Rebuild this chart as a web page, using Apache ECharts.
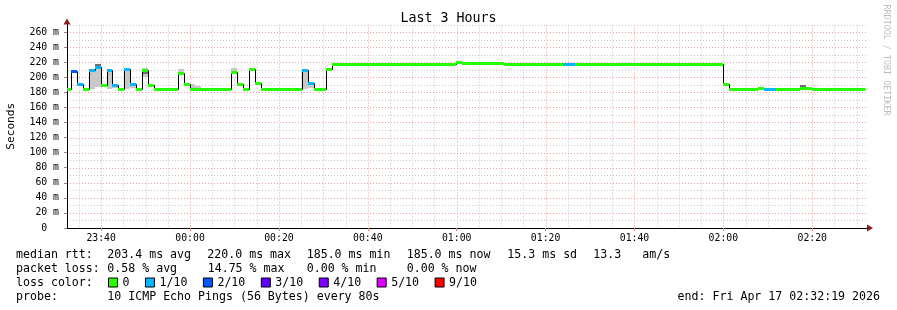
<!DOCTYPE html>
<html><head><meta charset="utf-8">
<script src="https://cdn.jsdelivr.net/npm/echarts@6/dist/echarts.min.js"></script>
<style>html,body{margin:0;padding:0;background:#fff;}#c{width:897px;height:310px;}</style>
</head><body><div id="c"></div>
<script>
// ---------- data ----------
const axisStart = '23:32:19';
const axisEnd = '02:32:19';
const firstStepTime = '23:31:53';
const stepSeconds = 80;
const xMajorTicks = ['23:40','00:00','00:20','00:40','01:00','01:20','01:40','02:00','02:20'];
const xMinorTicks = ['23:35','23:45','23:50','23:55','00:05','00:10','00:15','00:25','00:30','00:35','00:45','00:50','00:55',
  '01:05','01:10','01:15','01:25','01:30','01:35','01:45','01:50','01:55','02:05','02:10','02:15','02:25','02:30'];
const yMajorTicks = [0,20,40,60,80,100,120,140,160,180,200,220,240,260];
const yMinorTicks = [10,30,50,70,90,110,130,150,170,190,210,230,250,270];

// median rtt (ms) per 80 s step
const median = [
  185, 208, 191, 185, 210, 214, 190, 209, 190, 185,
  211, 191, 185, 209, 190, 185, 185, 185, 185, 206,
  191, 185, 185, 185, 185, 185, 185, 185, 207, 191,
  185, 211, 193, 185, 185, 185, 185, 185, 185, 185,
  210, 192, 185, 185, 211, 217, 217, 217, 217, 217,
  217, 218, 217, 218, 217, 218, 217, 218, 217, 218,
  217, 218, 217, 218, 217, 218, 220, 219.5, 219.5, 219.5,
  219.5, 219.5, 219.5, 219.5, 218, 217, 217, 217, 217, 217,
  217, 217, 217, 217, 217, 217, 217, 217, 217, 217,
  217, 217, 217, 217, 217, 217, 217, 217, 217, 217,
  217, 217, 217, 217, 217, 217, 217, 217, 217, 217,
  217, 191, 185, 185, 185, 185, 185, 185.5, 185, 185,
  185, 185, 185, 185, 185.5, 185.5, 185, 185, 185, 185,
  185, 185, 185, 185, 185
];
// packet loss (tenths) for steps with loss; all others 0
const lossSteps  = [1, 2, 4, 5, 7, 8, 10, 11, 40, 41, 84, 85, 118, 119];
const lossTenths = [2, 1, 1, 1, 1, 1, 1,  1,  1,  1,  1,  1,  1,   1];
// smoke (spread of pings)
const smokeSteps = [4, 5, 7, 8, 10, 11, 13, 19, 21, 22, 28, 40, 41];
const smokeLo    = [185, 187, 185, 186, 185, 186, 201, 205, 185, 185, 205, 185, 186];
const smokeHi    = [211, 217, 210, 191, 212, 192, 212, 211, 191, 188, 212, 211, 192];
const coreSteps  = [5, 13, 124];
const coreLo     = [212, 204, 186.5];
const coreHi     = [217, 208, 190];

const lossClasses = [0, 1, 2, 3, 4, 5, 9];
const lossNames   = ['0', '1/10', '2/10', '3/10', '4/10', '5/10', '9/10'];
const lossColors  = ['#26ff00', '#00b8ff', '#0059ff', '#5e00ff', '#7e00ff', '#dd00ff', '#ff0000'];

const medianStats = ['203.4 ms avg', '220.0 ms max', '185.0 ms min', '185.0 ms now', '15.3 ms sd', '13.3', 'am/s'];
const lossStats   = ['0.58 % avg', '14.75 % max', '0.00 % min', '0.00 % now'];
const probeText = '10 ICMP Echo Pings (56 Bytes) every 80s';
const endText = 'end: Fri Apr 17 02:32:19 2026';

// ---------- helpers ----------
const toSec = s => { const p = s.split(':').map(Number); let v = p[0]*3600 + p[1]*60 + (p[2] || 0); if (p[0] >= 12) v -= 86400; return v; };
const startSec = toSec(axisStart), endSec = toSec(axisEnd), firstSec = toSec(firstStepTime);
const stepT0 = k => firstSec + k * stepSeconds;
const lossOf = k => { const i = lossSteps.indexOf(k); return i >= 0 ? lossTenths[i] : 0; };
const xMajorSecs = xMajorTicks.map(toSec);
const xMinorSecs = xMinorTicks.map(toSec);
const FONT = '"DejaVu Sans Mono", monospace';
const RED = '#eea0a0', GRAY = '#c8c8c8';
const crisp = v => Math.round(v) + 0.5;

const vGridData = xMajorSecs.map(t => [t, 1]).concat(xMinorSecs.map(t => [t, 0]));
const hGridData = yMajorTicks.filter(v => v > 0).map(v => [v, 1]).concat(yMinorTicks.map(v => [v, 0]));

const lineData = median.map((v, k) => [stepT0(k), stepT0(k) + stepSeconds, k > 0 ? median[k-1] : v, v]);
const smokeData = smokeSteps.map((k, i) => [stepT0(k), stepT0(k) + stepSeconds, smokeLo[i], smokeHi[i]]);
const coreData = coreSteps.map((k, i) => [stepT0(k), stepT0(k) + stepSeconds, coreLo[i], coreHi[i]]);

function rectItem(color) {
  return function (params, api) {
    const a = api.coord([api.value(0), api.value(3)]);
    const b = api.coord([api.value(1), api.value(2)]);
    const x0 = Math.round(a[0]), x1 = Math.round(b[0]);
    const y0 = Math.round(a[1]), y1 = Math.round(b[1]);
    return { type: 'rect', shape: { x: x0, y: y0, width: x1 - x0, height: Math.max(1, y1 - y0) }, style: { fill: color } };
  };
}

const series = [];
series.push({
  type: 'custom', name: 'vgrid', silent: true, z: 1, clip: true, data: vGridData,
  renderItem: (params, api) => {
    const cs = params.coordSys;
    const x = crisp(api.coord([api.value(0), 0])[0]);
    return { type: 'line', shape: { x1: x, y1: cs.y, x2: x, y2: cs.y + cs.height },
      style: { stroke: api.value(1) ? RED : GRAY, lineWidth: 1, lineDash: [1, 2] } };
  }
});
series.push({
  type: 'custom', name: 'hgrid', silent: true, z: 1, clip: true, data: hGridData,
  renderItem: (params, api) => {
    const cs = params.coordSys;
    const y = crisp(api.coord([startSec, api.value(0)])[1]);
    return { type: 'line', shape: { x1: cs.x, y1: y, x2: cs.x + cs.width, y2: y },
      style: { stroke: api.value(1) ? RED : GRAY, lineWidth: 1, lineDash: [1, 2] } };
  }
});
series.push({ type: 'custom', name: 'smoke', silent: true, z: 2, clip: true, data: smokeData, renderItem: rectItem('#c8c8c8') });
series.push({ type: 'custom', name: 'smokecore', silent: true, z: 2, clip: true, data: coreData, renderItem: rectItem('#6e6e6e') });
series.push({
  type: 'custom', name: 'median', silent: true, z: 3, clip: true, data: lineData,
  renderItem: (params, api) => {
    const p0 = api.coord([api.value(0), api.value(2)]);
    const p1 = api.coord([api.value(0), api.value(3)]);
    const p2 = api.coord([api.value(1), api.value(3)]);
    const x0 = crisp(p0[0]), x2 = crisp(p2[0]);
    return { type: 'polyline', shape: { points: [[x0, crisp(p0[1])], [x0, crisp(p1[1])], [x2, crisp(p2[1])]] },
      style: { stroke: '#000', lineWidth: 1, fill: null } };
  }
});
lossClasses.forEach((c, i) => {
  const data = [];
  median.forEach((v, k) => { if (lossOf(k) === c) data.push([stepT0(k), stepT0(k) + stepSeconds, v]); });
  series.push({
    type: 'custom', name: lossNames[i], z: 4, clip: true, data: data,
    itemStyle: { color: lossColors[i] },
    renderItem: (params, api) => {
      const a = api.coord([api.value(0), api.value(2)]);
      const b = api.coord([api.value(1), api.value(2)]);
      const y = crisp(a[1]);
      return { type: 'line', shape: { x1: Math.round(a[0]), y1: y, x2: Math.round(b[0]), y2: y },
        style: { stroke: lossColors[i], lineWidth: 3, lineCap: 'butt' } };
    }
  });
});

// ---------- text ----------
const graphics = [];
const txt = (x, y, text, opt) => graphics.push(Object.assign({ type: 'text', x: x, y: y, silent: true,
  style: Object.assign({ text: text, fontFamily: FONT, fontSize: 11.6, fill: '#000', verticalAlign: 'middle', align: 'left' }, (opt || {}).style || {}) },
  (opt && opt.rotation != null) ? { rotation: opt.rotation } : {}));
txt(16, 254.5, 'median rtt:');
[107.3, 207.3, 306.7, 406.7, 507.3, 593.3, 642.3].forEach((x, i) => txt(x, 254.5, medianStats[i]));
txt(16, 268.5, 'packet loss:');
[107.3, 207.7, 306.7, 406.7].forEach((x, i) => txt(x, 268.5, lossStats[i]));
txt(16, 282.5, 'loss color:');
txt(16, 296.5, 'probe:');
txt(107.3, 296.5, probeText);
txt(880, 296.5, endText, { style: { align: 'right' } });
txt(886, 60, 'RRDTOOL / TOBI OETIKER', { rotation: -Math.PI / 2, style: { fontSize: 8.4, fill: '#bdbdbd', align: 'center' } });

const option = {
  animation: false,
  backgroundColor: '#fff',
  title: { text: 'Last 3 Hours', left: 'center', top: 11, padding: 0,
    textStyle: { fontFamily: FONT, fontSize: 13.3, fontWeight: 'normal', color: '#000', lineHeight: 16 } },
  grid: { left: 67, top: 24.5, width: 800, height: 203.5, containLabel: false, outerBoundsMode: 'none' },
  legend: {
    left: 108, top: 275.5, padding: 0, itemWidth: 9, itemHeight: 9, itemGap: 15.5, icon: 'rect', selectedMode: false,
    itemStyle: { borderColor: '#000', borderWidth: 1 },
    textStyle: { fontFamily: FONT, fontSize: 11.6, color: '#000', lineHeight: 14 },
    data: lossNames
  },
  xAxis: [{
    type: 'value', min: startSec, max: endSec, z: 3,
    axisLine: { show: true, onZero: false, lineStyle: { color: '#000', width: 1 } },
    axisTick: { show: true, customValues: xMajorSecs, length: 3, lineStyle: { color: '#e08080' } },
    axisLabel: { customValues: xMajorSecs, margin: 5, fontFamily: FONT, fontSize: 9.8, color: '#000',
      formatter: v => { const i = xMajorSecs.indexOf(v); return i >= 0 ? xMajorTicks[i] : ''; } },
    splitLine: { show: false }
  }, {
    type: 'value', min: startSec, max: endSec, position: 'bottom', z: 2,
    axisLine: { show: true, onZero: false, symbol: ['none', 'triangle'], symbolSize: [7, 6], symbolOffset: [0, 3], lineStyle: { color: '#8b1c1c', width: 1 } },
    axisTick: { show: false }, axisLabel: { show: false }, splitLine: { show: false }
  }],
  yAxis: [{
    type: 'value', min: 0, max: 270, z: 3,
    name: 'Seconds', nameLocation: 'middle', nameGap: 50,
    nameTextStyle: { fontFamily: FONT, fontSize: 11.1, color: '#000' },
    axisLine: { show: true, onZero: false, lineStyle: { color: '#000', width: 1 } },
    axisTick: { show: true, customValues: yMajorTicks, length: 3, lineStyle: { color: '#a08080' } },
    axisLabel: { customValues: yMajorTicks, margin: 8, fontFamily: FONT, fontSize: 9.8, color: '#000',
      formatter: v => v === 0 ? '0  ' : v + ' m' },
    splitLine: { show: false }
  }, {
    type: 'value', min: 0, max: 270, position: 'left', z: 2,
    axisLine: { show: true, onZero: false, symbol: ['none', 'triangle'], symbolSize: [7, 6], symbolOffset: [0, 3], lineStyle: { color: '#8b1c1c', width: 1 } },
    axisTick: { show: false }, axisLabel: { show: false }, splitLine: { show: false }
  }],
  graphic: graphics,
  series: series
};
const chart = echarts.init(document.getElementById('c'), null, { renderer: 'canvas' });
chart.setOption(option);
</script></body></html>
